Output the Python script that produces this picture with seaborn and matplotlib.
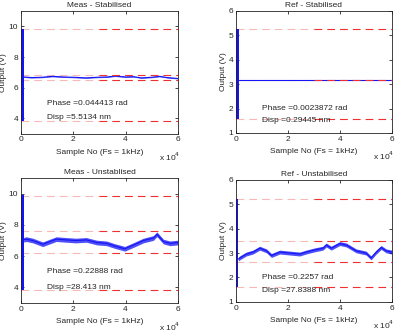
import numpy as np
import pandas as pd
import matplotlib
matplotlib.use("Agg")
import matplotlib.pyplot as plt
import seaborn as sns

# ---- data (x in units of 10^4 samples) ----
titles = ["Meas - Stabilised", "Ref - Stabilised", "Meas - Unstablised", "Ref - Unstabilised"]
phase_txt = ["Phase =0.044413 rad", "Phase =0.0023872 rad", "Phase =0.22888 rad", "Phase =0.2257 rad"]
disp_txt = ["Disp =5.5134 nm", "Disp =0.29445 nm", "Disp =28.413 nm", "Disp =27.8388 nm"]

meas_stab_x = [0.1, 0.4, 0.8, 1.2, 1.6, 2.0, 2.5, 2.9, 3.3, 3.6, 4.0, 4.3, 4.6, 5.0, 5.3, 5.6, 6.0]
meas_stab_y = [6.70, 6.66, 6.68, 6.74, 6.70, 6.68, 6.64, 6.68, 6.70, 6.76, 6.70, 6.72, 6.64, 6.68, 6.74, 6.66, 6.60]

ref_stab_x = [0.12, 6.0]
ref_stab_y = [3.18, 3.18]

meas_unstab_x = [0.1, 0.2, 0.45, 0.83, 1.0, 1.35, 1.73, 2.1, 2.5, 2.9, 3.27, 3.6, 3.97,
                 4.3, 4.68, 5.06, 5.2, 5.45, 5.7, 6.0]
meas_unstab_y = [7.05, 7.09, 7.00, 6.76, 6.87, 7.09, 7.04, 7.00, 7.04, 6.87, 6.82, 6.64, 6.47,
                 6.71, 7.00, 7.16, 7.40, 6.93, 6.82, 6.87]

ref_unstab_x = [0.1, 0.15, 0.4, 0.66, 0.92, 1.18, 1.37, 1.69, 2.07, 2.46, 2.7, 3.03, 3.35, 3.48,
                3.67, 4.0, 4.25, 4.63, 5.01, 5.2, 5.4, 5.59, 5.78, 6.0]
ref_unstab_y = [2.75, 2.80, 2.96, 3.04, 3.20, 3.09, 2.90, 3.04, 3.00, 2.96, 3.04, 3.13, 3.20, 3.33,
                3.20, 3.39, 3.33, 3.09, 3.00, 2.80, 3.04, 3.23, 3.09, 3.04]

noise_half = [0.03, 0.0, 0.15, 0.08]          # half width of the noisy band
burst_end = [0.1, 0.12, 0.1, 0.08]            # end of initial fringe sweep (x 10^4)
burst_lo = [3.82, 1.58, 3.82, 1.60]
burst_hi = [9.85, 5.24, 9.95, 5.20]

red_levels = [[9.85, 6.80, 6.50, 3.82],
              [5.24, 3.18, 1.58],
              [9.88, 7.60, 6.20, 3.82],
              [5.20, 3.48, 2.64, 1.60]]

ylims = [(3, 11), (1, 6), (3, 11), (1, 6)]
yticks = [[4, 6, 8, 10], [1, 2, 3, 4, 5, 6], [4, 6, 8, 10], [1, 2, 3, 4, 5, 6]]
text_y = [(5.0, 4.05), (2.0, 1.5), (5.0, 4.0), (2.0, 1.45)]

traces = [(meas_stab_x, meas_stab_y), (ref_stab_x, ref_stab_y),
          (meas_unstab_x, meas_unstab_y), (ref_unstab_x, ref_unstab_y)]

# ---- styling ----
sns.set_style("ticks")
plt.rcParams["font.family"] = ["Liberation Sans", "DejaVu Sans"]
plt.rcParams["font.size"] = 6
plt.rcParams["xtick.direction"] = "in"
plt.rcParams["ytick.direction"] = "in"
plt.rcParams["xtick.major.size"] = 2.5
plt.rcParams["ytick.major.size"] = 2.5
plt.rcParams["axes.linewidth"] = 0.6

blue = "#1414f5"
pink = "#f7b8b8"
red = "#f03030"
fs = 6

fig = plt.figure(figsize=(3.97, 3.35), dpi=100)
positions = [[0.053, 0.601, 0.395, 0.366], [0.594, 0.603, 0.393, 0.365],
             [0.053, 0.096, 0.395, 0.372], [0.594, 0.099, 0.393, 0.364]]

for i in range(4):
    ax = fig.add_axes(positions[i])
    x, y = traces[i]
    df = pd.DataFrame({"x": x, "y": y})

    # red dashed reference levels: faint first half, strong second half
    for lv in red_levels[i]:
        ax.plot([0, 3], [lv, lv], color=pink, lw=0.8, dashes=(7, 4.5), zorder=1)
        ax.plot([3, 6], [lv, lv], color=red, lw=0.8, dashes=(7, 4.5), zorder=3)

    # initial fringe sweep
    ax.fill_between([0, burst_end[i]], burst_lo[i], burst_hi[i], color=blue, lw=0, zorder=2)

    # noisy band + trace
    if noise_half[i] > 0:
        ax.fill_between(df["x"], df["y"] - noise_half[i], df["y"] + noise_half[i],
                        color=blue, alpha=0.75, lw=0, zorder=2)
    sns.lineplot(data=df, x="x", y="y", ax=ax, color=blue, lw=0.8, zorder=2)

    ax.text(1.0, text_y[i][0], phase_txt[i], fontsize=fs, va="center")
    ax.text(1.0, text_y[i][1], disp_txt[i], fontsize=fs, va="center")

    ax.set_xlim(0, 6)
    ax.set_ylim(*ylims[i])
    ax.set_xticks([0, 2, 4, 6])
    ax.set_yticks(yticks[i])
    ax.tick_params(top=True, right=True, labelsize=fs, pad=2, width=0.6)
    ax.set_title(titles[i], fontsize=fs, pad=3)
    ax.set_xlabel("Sample No (Fs = 1kHz)", fontsize=fs, labelpad=4)
    ax.set_ylabel("Output (V)", fontsize=fs, labelpad=1)
    ax.text(0.95, -0.19, r"x 10$^4$", transform=ax.transAxes, fontsize=fs,
            ha="center", va="center")
    for s in ax.spines.values():
        s.set_visible(True)
        s.set_color("#222222")

fig.savefig("out.png", dpi=100)
